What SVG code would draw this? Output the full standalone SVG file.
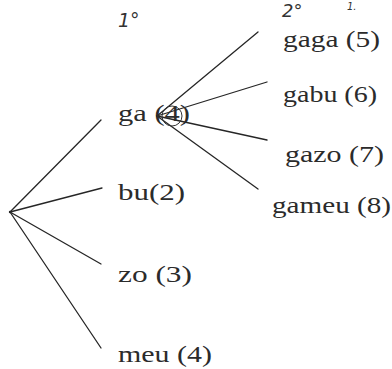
<svg xmlns="http://www.w3.org/2000/svg" width="392" height="369" viewBox="0 0 392 369">
<style>
text.lbl{font-family:'Liberation Serif','Times New Roman',Times,serif;font-size:23px;fill:#2b2b2b;}
text.hand{font-family:'DejaVu Sans','Liberation Sans',sans-serif;font-style:italic;fill:#333;}
.edge{stroke:#262626;stroke-width:1.3;fill:none;stroke-linecap:round;}
</style>
<rect width="392" height="369" fill="#ffffff"/>
<g id="connectors">
<line class="edge" x1="10" y1="212" x2="101" y2="120"/>
<line class="edge" x1="10" y1="212" x2="102" y2="188"/>
<line class="edge" x1="10" y1="212" x2="101" y2="264"/>
<line class="edge" x1="10" y1="212" x2="101" y2="348"/>
<line class="edge" x1="157" y1="116" x2="258" y2="32"/>
<line class="edge" x1="157" y1="116" x2="267" y2="82"/>
<line class="edge" x1="157" y1="116" x2="267" y2="140"/>
<line class="edge" x1="157" y1="116" x2="258" y2="189"/>
</g>
<g id="level-labels">
<text class="hand" x="118" y="27" font-size="19">1°</text>
<text class="hand" x="282" y="17" font-size="18">2°</text>
<text class="hand" x="347" y="10" font-size="10" fill="#777">1.</text>
</g>
<g id="node-root"><circle cx="10" cy="212" r="1.2" fill="#262626"/></g>
<g id="node-ga">
<text class="lbl" x="118" y="121" textLength="72" lengthAdjust="spacingAndGlyphs">ga (4)</text>
<circle cx="172" cy="116" r="10" fill="none" stroke="#333" stroke-width="1"/>
</g>
<g id="node-bu"><text class="lbl" x="118" y="200" textLength="67" lengthAdjust="spacingAndGlyphs">bu(2)</text></g>
<g id="node-zo"><text class="lbl" x="118" y="282" textLength="74" lengthAdjust="spacingAndGlyphs">zo (3)</text></g>
<g id="node-meu"><text class="lbl" x="118" y="362" textLength="94" lengthAdjust="spacingAndGlyphs">meu (4)</text></g>
<g id="node-gaga"><text class="lbl" x="283" y="47" textLength="97" lengthAdjust="spacingAndGlyphs">gaga (5)</text></g>
<g id="node-gabu"><text class="lbl" x="283" y="102" textLength="94" lengthAdjust="spacingAndGlyphs">gabu (6)</text></g>
<g id="node-gazo"><text class="lbl" x="285" y="162" textLength="99" lengthAdjust="spacingAndGlyphs">gazo (7)</text></g>
<g id="node-gameu"><text class="lbl" x="272" y="213" textLength="119" lengthAdjust="spacingAndGlyphs">gameu (8)</text></g>
</svg>
